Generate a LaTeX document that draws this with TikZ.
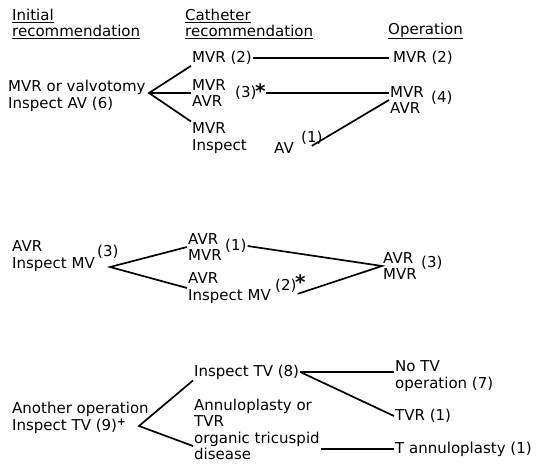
\documentclass[tikz,border=0pt]{standalone}
\usepackage{fontspec}
\setmainfont{DejaVu Sans}
\begin{document}
\begin{tikzpicture}[x=1pt,y=-1pt,
  txt/.style={anchor=west, inner sep=1pt, align=left, font=\fontsize{15}{16.5}\selectfont},
  star/.style={anchor=west, inner sep=0pt, font=\fontsize{20}{20}\selectfont\bfseries},
  link/.style={line width=1.7pt}]
\useasboundingbox (0,0) rectangle (538,468);
% headings
\node[txt] (hinit) at (11,24) {\underline{Initial}\\\underline{recommendation}};
\node[txt] (hcath) at (184,24) {\underline{Catheter}\\\underline{recommendation}};
\node[txt] (hop) at (387,31) {\underline{Operation}};

% first group
\node[txt] (i1) at (7,96) {MVR or valvotomy\\Inspect AV (6)};
\coordinate (b1) at (149,93);
\node[txt] (c1a) at (191,58) {MVR (2)};
\node[txt] (c1b) at (191,93) {MVR\\AVR};
\node[txt] (c1bn) at (234,93) {(3)};
\node[star] (c1bs) at (255,91) {*};
\node[txt] (c1c) at (191,138) {MVR\\Inspect};
\node[txt] (c1av) at (273,148) {AV};
\node[txt] (c1avn) at (300,138) {(1)};
\node[txt] (o1a) at (392,58) {MVR (2)};
\node[txt] (o1b) at (389,100) {MVR\\AVR};
\node[txt] (o1bn) at (430,98) {(4)};
\draw[link] (c1a.south west) -- (b1) -- (c1c.north west);
\draw[link] (b1) -- (c1b.west);
\draw[link] (c1a.east) -- ([xshift=-3pt]o1a.west);
\draw[link] (c1bn.east -| c1bs.east) -- (c1bn.east -| o1b.west);
\draw[link] (c1avn.south) -- (o1b.west);

% second group
\node[txt] (i2) at (11,256) {AVR\\Inspect MV};
\node[txt] (i2n) at (96,252) {(3)};
\coordinate (b2) at (110,267);
\node[txt] (c2a) at (187,247) {AVR\\MVR};
\node[txt] (c2an) at (224,246) {(1)};
\node[txt] (c2b) at (187,288) {AVR\\Inspect MV};
\node[txt] (c2bn) at (274,286) {(2)};
\node[star] (c2bs) at (295,282) {*};
\node[txt] (o2) at (382,266) {AVR\\MVR};
\node[txt] (o2n) at (420,263) {(3)};
\draw[link] (c2a.west) -- (b2) -- (c2b.west);
\draw[link] (c2an.east) -- (o2.west) -- (c2bn.south east);

% third group
\node[txt] (i3) at (11,418) {Another operation\\Inspect TV (9)\textsuperscript{\textbf{+}}};
\coordinate (b3) at (139,426);
\node[txt] (c3a) at (193,372) {Inspect TV (8)};
\node[txt] (c3b) at (193,413) {Annuloplasty or\\TVR};
\node[txt] (c3c) at (193,446) {organic tricuspid\\disease};
\node[txt] (o3a) at (394,376) {No TV\\operation (7)};
\node[txt] (o3b) at (394,416) {TVR (1)};
\node[txt] (o3c) at (394,449) {T annuloplasty (1)};
\draw[link] (c3a.south west) -- (b3) -- (c3c.west);
\draw[link] (c3a.east) -- (c3a.east -| o3a.west);
\draw[link] (c3a.east) -- (o3b.west);
\draw[link] (c3c.east |- o3c.west) -- (o3c.west);
\end{tikzpicture}
\end{document}
